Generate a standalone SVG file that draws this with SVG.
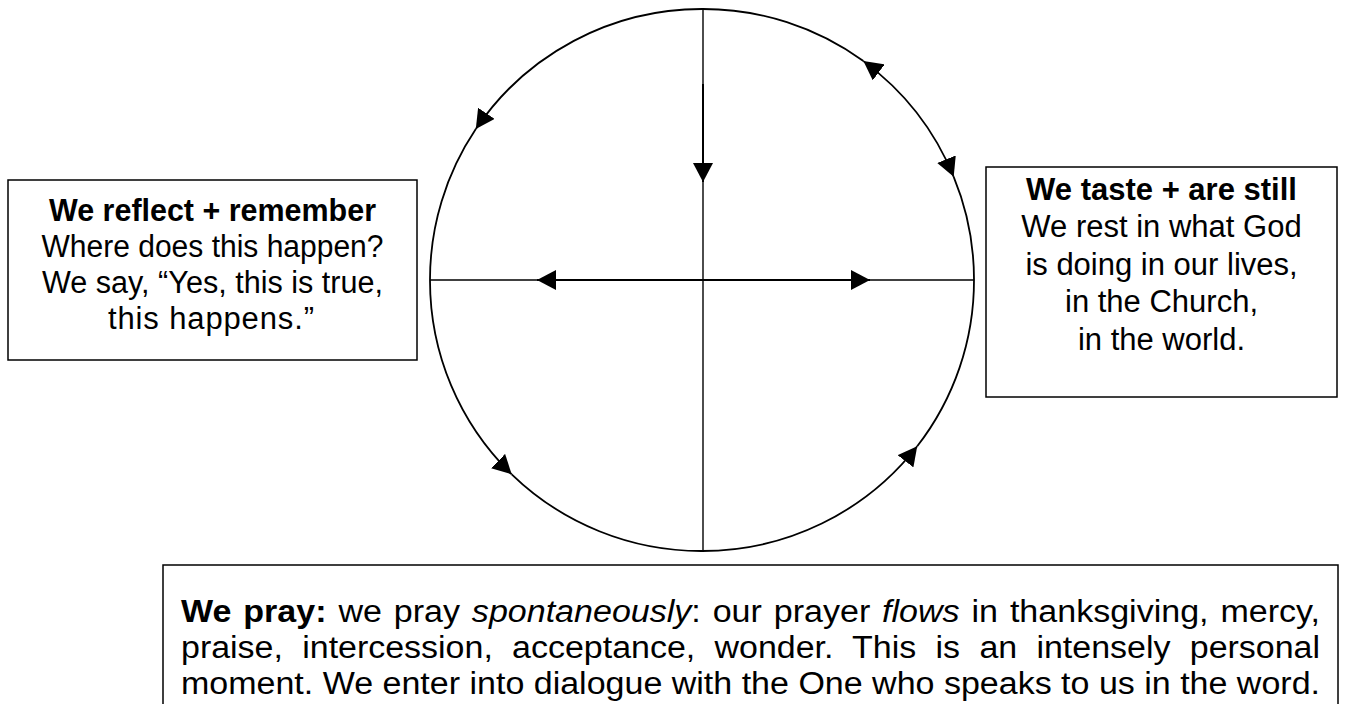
<svg xmlns="http://www.w3.org/2000/svg" width="1348" height="704" viewBox="0 0 1348 704">
<style>
.box{fill:#fff;stroke:#000;stroke-width:1.5}
.t{font-family:"Liberation Sans",Arial,sans-serif;font-size:31px;fill:#000}
.c{text-anchor:middle}
.b{font-weight:bold}
.i{font-style:italic}
.ln{fill:none;stroke:#000;stroke-width:1.4}
.arc{fill:none;stroke:#000;stroke-width:1.8}
.ar{fill:none;stroke:#000;stroke-width:2}
</style>
<defs>
<marker id="ah" markerUnits="userSpaceOnUse" viewBox="0 0 19 20" refX="19" refY="10" markerWidth="19" markerHeight="20" orient="auto-start-reverse">
<path d="M0,0 L19,10 L0,20 z" fill="#000"/>
</marker>
</defs>
<rect width="1348" height="704" fill="#fff"/>
<g id="connectors">
<path class="arc" d="M702,9 A272,271 0 0 0 475.8,129.1" marker-end="url(#ah)"/>
<path class="arc" d="M475.8,129.1 A272,271 0 0 0 430,280"/>
<path class="arc" d="M430,280 A272,271 0 0 0 511.7,474.3" marker-end="url(#ah)"/>
<path class="arc" d="M511.7,474.3 A272,271 0 0 0 702,551"/>
<path class="arc" d="M702,551 A272,271 0 0 0 917.2,446.3" marker-end="url(#ah)"/>
<path class="arc" d="M917.2,446.3 A272,271 0 0 0 974,280"/>
<path class="arc" d="M974,280 A272,271 0 0 0 953.7,176.8"/>
<path class="arc" d="M863.4,61.1 A272,271 0 0 1 953.7,176.8" marker-start="url(#ah)" marker-end="url(#ah)"/>
<path class="arc" d="M863.4,61.1 A272,271 0 0 0 702,9"/>
<line class="ln" x1="703" y1="9" x2="703" y2="551"/>
<line class="ln" x1="430" y1="280" x2="974" y2="280"/>
<path class="ar" d="M703,84 L703,182" marker-end="url(#ah)"/>
<path class="ar" d="M703,280 L537,280" marker-end="url(#ah)"/>
<path class="ar" d="M703,280 L870,280" marker-end="url(#ah)"/>
</g>
<g id="reflect">
<rect class="box" x="8" y="180" width="409" height="180"/>
<text class="t c b" x="212.5" y="221" textLength="327" lengthAdjust="spacingAndGlyphs">We reflect + remember</text>
<text class="t c" x="212.5" y="257" textLength="342" lengthAdjust="spacingAndGlyphs">Where does this happen?</text>
<text class="t c" x="212.5" y="293" textLength="341" lengthAdjust="spacingAndGlyphs">We say, “Yes, this is true,</text>
<text class="t c" x="211" y="329" textLength="206" lengthAdjust="spacing">this happens.”</text>
</g>
<g id="taste">
<rect class="box" x="986" y="167" width="351" height="230"/>
<text class="t c b" x="1161.5" y="200">We taste + are still</text>
<text class="t c" x="1161.5" y="237">We rest in what God</text>
<text class="t c" x="1161.5" y="275">is doing in our lives,</text>
<text class="t c" x="1161.5" y="312">in the Church,</text>
<text class="t c" x="1161.5" y="350">in the world.</text>
</g>
<g id="pray">
<rect class="box" x="163" y="565" width="1175" height="160"/>
<text class="t" x="181" y="622" word-spacing="2.2" textLength="1139" lengthAdjust="spacingAndGlyphs"><tspan class="b">We pray:</tspan> we pray <tspan class="i">spontaneously</tspan>: our prayer <tspan class="i">flows</tspan> in thanksgiving, mercy,</text>
<text class="t" x="181" y="658" word-spacing="9" textLength="1139" lengthAdjust="spacingAndGlyphs">praise, intercession, acceptance, wonder. This is an intensely personal</text>
<text class="t" x="181" y="694" textLength="1139" lengthAdjust="spacingAndGlyphs">moment. We enter into dialogue with the One who speaks to us in the word.</text>
</g>
</svg>
